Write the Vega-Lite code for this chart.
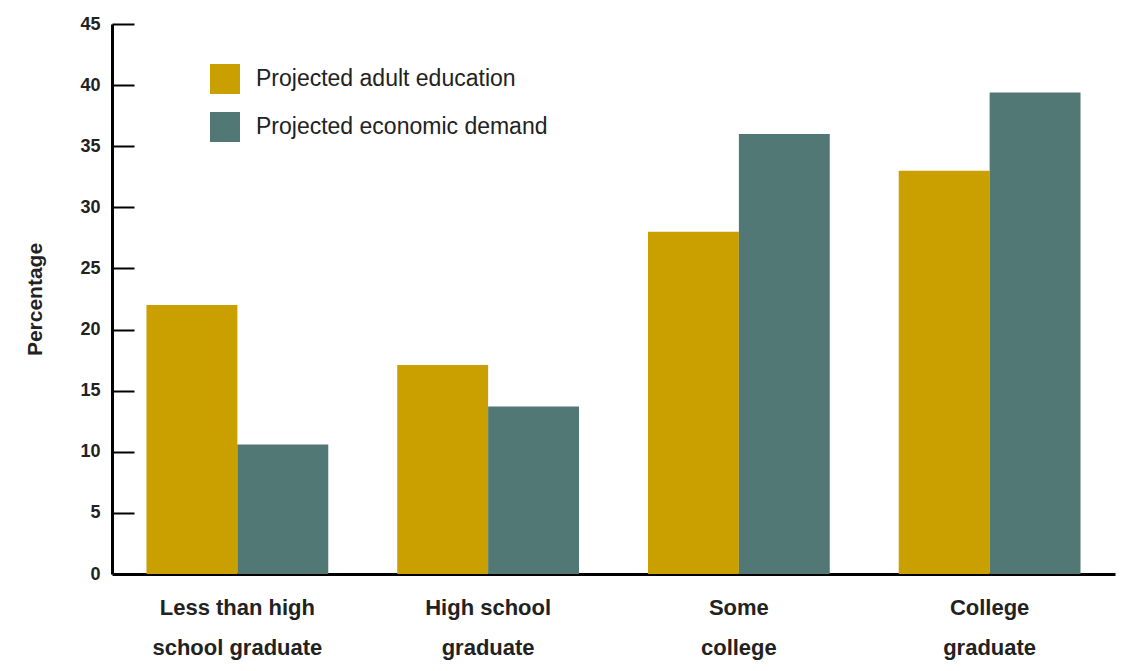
{
  "$schema": "https://vega.github.io/schema/vega-lite/v6.json",
  "autosize": "none",
  "width": 1003,
  "height": 550,
  "padding": {"left": 112, "top": 24, "right": 8, "bottom": 97},
  "background": "white",
  "config": {
    "view": {"stroke": null},
    "font": "Liberation Sans Narrow, Liberation Sans, sans-serif"
  },
  "data": {
    "values": [
      {"level": "Less than high|school graduate", "series": "Projected adult education", "value": 22.0},
      {"level": "Less than high|school graduate", "series": "Projected economic demand", "value": 10.6},
      {"level": "High school|graduate", "series": "Projected adult education", "value": 17.1},
      {"level": "High school|graduate", "series": "Projected economic demand", "value": 13.7},
      {"level": "Some|college", "series": "Projected adult education", "value": 28.0},
      {"level": "Some|college", "series": "Projected economic demand", "value": 36.0},
      {"level": "College|graduate", "series": "Projected adult education", "value": 33.0},
      {"level": "College|graduate", "series": "Projected economic demand", "value": 39.4}
    ]
  },
  "encoding": {
    "x": {
      "field": "level",
      "type": "nominal",
      "sort": null,
      "scale": {"paddingInner": 0.275, "paddingOuter": 0.1375},
      "axis": {
        "title": null,
        "labelExpr": "split(datum.label, '|')",
        "labelAngle": 0,
        "labelFontSize": 22,
        "labelFontWeight": "bold",
        "labelColor": "#222222",
        "labelLineHeight": 40,
        "labelPadding": 23,
        "ticks": false,
        "domainColor": "#000000",
        "domainWidth": 3
      }
    },
    "xOffset": {"field": "series", "type": "nominal", "scale": {"paddingInner": 0, "paddingOuter": 0}}
  },
  "layer": [
    {
      "mark": {"type": "bar"},
      "encoding": {
        "y": {
          "field": "value",
          "type": "quantitative",
          "scale": {"domain": [0, 45], "nice": false},
          "axis": {
            "orient": "left",
            "title": "Percentage",
            "titleFontSize": 21,
            "titleFontWeight": "bold",
            "titleColor": "#222222",
            "titlePadding": 34,
            "values": [0, 5, 10, 15, 20, 25, 30, 35, 40, 45],
            "grid": false,
            "labelFontSize": 18,
            "labelFontWeight": "bold",
            "labelColor": "#222222",
            "labelPadding": 12,
            "ticks": false,
            "domainColor": "#000000",
            "domainWidth": 3
          }
        },
        "color": {
          "field": "series",
          "type": "nominal",
          "scale": {"range": ["#C9A000", "#527876"]},
          "legend": {
            "title": null,
            "orient": "none",
            "legendX": 98,
            "legendY": 40,
            "direction": "vertical",
            "symbolType": "square",
            "symbolSize": 900,
            "symbolStrokeWidth": 0,
            "symbolOpacity": 1,
            "labelFontSize": 23,
            "labelColor": "#222222",
            "labelOffset": 16,
            "rowPadding": 18,
            "labelLimit": 600
          }
        }
      }
    },
    {
      "mark": {"type": "bar", "opacity": 0},
      "encoding": {
        "y": {
          "field": "value",
          "type": "quantitative",
          "scale": {"domain": [0, 45], "nice": false},
          "axis": {
            "orient": "left",
            "title": null,
            "values": [5, 10, 15, 20, 25, 30, 35, 40, 45],
            "grid": false,
            "labels": false,
            "domain": false,
            "ticks": true,
            "tickSize": -22,
            "tickWidth": 2,
            "tickColor": "#000000"
          }
        }
      }
    }
  ],
  "resolve": {"axis": {"y": "independent"}}
}
